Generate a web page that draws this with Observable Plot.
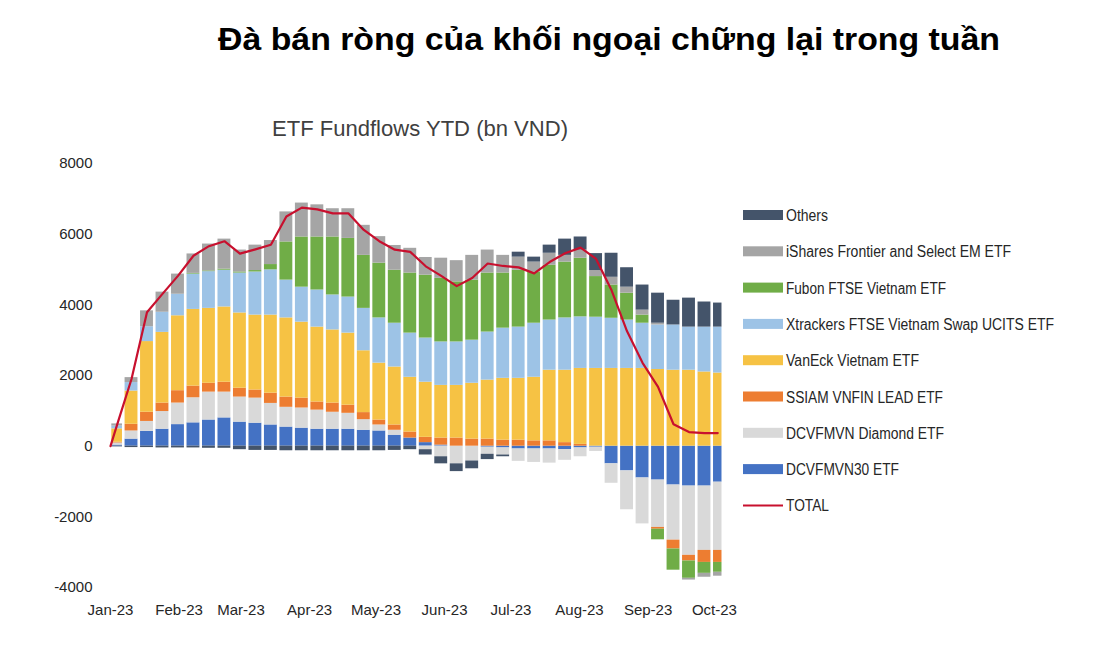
<!DOCTYPE html>
<html>
<head>
<meta charset="utf-8">
<script src="https://cdn.jsdelivr.net/npm/d3@7"></script>
<script src="https://cdn.jsdelivr.net/npm/@observablehq/plot@0.6"></script>
<style>
  html, body { margin: 0; padding: 0; background: #fff; }
  body { width: 1119px; height: 647px; overflow: hidden; position: relative; font-family: "Liberation Sans", Arial, sans-serif; }
  #chart { position: absolute; left: 0; top: 140px; }
  #overlay { position: absolute; left: 0; top: 0; pointer-events: none; }
</style>
</head>
<body>
<div id="chart"></div>
<svg id="overlay" width="1119" height="647"></svg>
<script>
// ---------- DATA (weekly, cumulative YTD, bn VND) ----------
const titleText = "Đà bán ròng của khối ngoại chững lại trong tuần";
const subtitleText = "ETF Fundflows YTD (bn VND)";

// stacking order, bottom first
const seriesNames = [
  "DCVFMVN30 ETF",
  "DCVFMVN Diamond ETF",
  "SSIAM VNFIN LEAD ETF",
  "VanEck Vietnam ETF",
  "Xtrackers FTSE Vietnam Swap UCITS ETF",
  "Fubon FTSE Vietnam ETF",
  "iShares Frontier and Select EM ETF",
  "Others"
];
const seriesColors = ["#4472c4", "#d9d9d9", "#ed7d31", "#f6c244", "#9dc3e6", "#70ad47", "#a5a5a5", "#44546a"];

const dcvfmvn30 = [30,200,420,480,610,660,740,800,680,650, 600,540,510,480,480,480,450,430,310,230,
                   100,30,0,0,-30,-50,-80,-80,-80,-100, -50,-30,-500,-700,-900,-960,-1100,-1130,-1130,-1020];
const diamond   = [60,230,280,500,610,710,790,730,710,710, 610,560,570,540,480,450,300,170,140,0,
                   -100,-300,-500,-420,-200,-200,-350,-380,-400,-300, -250,-120,-550,-1100,-1300,-1340,-1560,-1960,-1820,-1930];
const ssiam     = [20,190,260,240,350,330,250,280,250,230, 290,290,280,230,260,230,200,140,150,170,
                   150,200,230,200,200,170,170,150,150,100, 50,0,0,0,0,-50,-250,-160,-340,-340];
const vaneck    = [380,940,2000,2000,2120,2170,2120,2130,2130,2120, 2210,2240,2150,2120,2070,2040,1750,1610,1640,1550,
                   1560,1490,1490,1580,1670,1750,1750,1800,2000,2050, 2150,2200,2200,2200,2200,2170,2150,2150,2100,2070];
const xtrackers = [80,240,420,570,610,1000,1040,1040,1130,1220, 1280,1070,990,1050,990,1020,1200,1280,1240,1250,
                   1250,1230,1230,1220,1360,1420,1450,1530,1420,1480, 1460,1450,1420,1370,1280,1260,1280,1220,1270,1300];
const fubon     = [0,0,0,0,0,20,20,30,30,40, 150,1080,1420,1500,1640,1660,1500,1550,1500,1700,
                   1780,1800,1700,1700,1670,1560,1610,1450,1550,1580, 1660,1150,940,760,230,-300,-600,-490,-310,-280];
const ishares   = [60,140,450,570,570,550,760,850,620,720, 680,850,960,910,800,840,850,750,700,700,
                   500,570,600,700,650,500,370,280,340,190, 230,170,220,170,140,50,0,-50,-110,-110];
const others    = [-20,-40,-40,-50,-50,-50,-60,-60,-100,-120, -120,-130,-130,-130,-130,-130,-130,-130,-120,-100,
                   -150,-200,-220,-220,-150,-50,140,140,230,460, 370,480,680,550,710,850,700,820,710,680];
const seriesValues = [dcvfmvn30, diamond, ssiam, vaneck, xtrackers, fubon, ishares, others];

// week boundaries: first trading week starts Jan 1, weeks split on Saturdays, last bar ends Oct 5
const startDate = new Date(Date.UTC(2023, 0, 1));
const endDate = new Date(Date.UTC(2023, 9, 5));
const weekBounds = [startDate, ...d3.utcSaturday.range(new Date(Date.UTC(2023, 0, 7)), new Date(Date.UTC(2023, 9, 1))), endDate];

const yTicks = [-4000, -2000, 0, 2000, 4000, 6000, 8000];
const monthTicks = d3.utcMonth.range(new Date(Date.UTC(2023, 0, 1)), new Date(Date.UTC(2023, 9, 2)));

const legendItems = ["Others", "iShares Frontier and Select EM ETF", "Fubon FTSE Vietnam ETF",
  "Xtrackers FTSE Vietnam Swap UCITS ETF", "VanEck Vietnam ETF", "SSIAM VNFIN LEAD ETF",
  "DCVFMVN Diamond ETF", "DCVFMVN30 ETF", "TOTAL"];
const legendWidths = [42, 225, 160, 268, 133, 157, 158, 113, 43];

// ---------- BUILD TABLES ----------
const rows = seriesNames.flatMap((name, s) =>
  seriesValues[s].map((v, i) => ({series: name, x1: weekBounds[i], x2: weekBounds[i + 1], value: v})));

const totals = [{date: startDate, total: 0}].concat(weekBounds.slice(0, -1).map((d, i) => ({
  date: new Date((weekBounds[i].getTime() + weekBounds[i + 1].getTime()) / 2),
  total: d3.sum(seriesValues, arr => arr[i])
})));

// ---------- CHART ----------
const chart = Plot.plot({
  width: 740,
  height: 487,
  marginLeft: 110,
  marginRight: 15,
  marginTop: 23,
  marginBottom: 40,
  style: {fontSize: "15px", fontFamily: "'Liberation Sans', Arial, sans-serif", color: "#262626", background: "transparent"},
  x: {type: "utc", domain: [startDate, new Date(Date.UTC(2023, 9, 6))], ticks: monthTicks,
      tickFormat: d3.utcFormat("%b-%y"), tickSize: 0, tickPadding: 17, label: null},
  y: {domain: [-4000, 8000], ticks: yTicks, tickSize: 0, tickPadding: 18, label: null, tickFormat: d => String(d)},
  color: {domain: seriesNames, range: seriesColors},
  marks: [
    Plot.rectY(rows, {x1: "x1", x2: "x2", y: "value", fill: "series", insetLeft: 1.3, insetRight: 1.3}),
    Plot.lineY(totals, {x: "date", y: "total", stroke: "#c8102e", strokeWidth: 2.2})
  ]
});
document.getElementById("chart").appendChild(chart);

// ---------- TITLES & LEGEND ----------
const ov = d3.select("#overlay");
ov.append("text").attr("x", 218).attr("y", 50)
  .attr("textLength", 782).attr("lengthAdjust", "spacingAndGlyphs")
  .attr("font-family", "'Liberation Sans', Arial, sans-serif")
  .attr("font-size", 32).attr("font-weight", "bold").attr("fill", "#000")
  .text(titleText);
ov.append("text").attr("x", 272).attr("y", 136)
  .attr("textLength", 296).attr("lengthAdjust", "spacingAndGlyphs")
  .attr("font-family", "'Liberation Sans', Arial, sans-serif")
  .attr("font-size", 22).attr("fill", "#404040")
  .text(subtitleText);

const legendColor = name => name === "TOTAL" ? "#c8102e" : seriesColors[seriesNames.indexOf(name)];
legendItems.forEach((name, k) => {
  const cy = 215 + k * 36.3;
  if (name === "TOTAL") {
    ov.append("line").attr("x1", 743).attr("x2", 783).attr("y1", cy).attr("y2", cy)
      .attr("stroke", legendColor(name)).attr("stroke-width", 2);
  } else {
    ov.append("rect").attr("x", 743).attr("y", cy - 5).attr("width", 40).attr("height", 10)
      .attr("fill", legendColor(name));
  }
  ov.append("text").attr("x", 786).attr("y", cy + 6)
    .attr("textLength", legendWidths[k]).attr("lengthAdjust", "spacingAndGlyphs")
    .attr("font-family", "'Liberation Sans', Arial, sans-serif")
    .attr("font-size", 16).attr("fill", "#262626")
    .text(name);
});
</script>
</body>
</html>
